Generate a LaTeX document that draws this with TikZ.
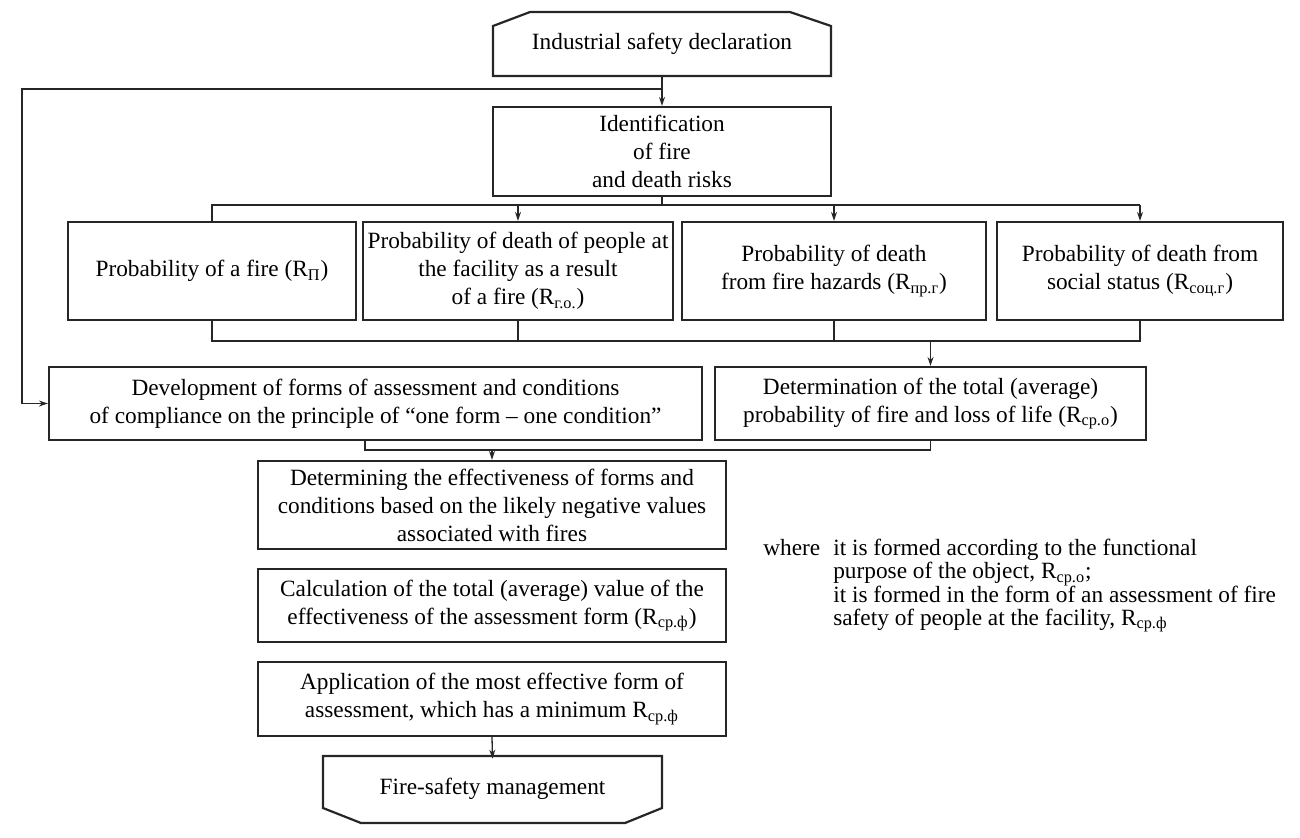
\documentclass[tikz,border=0pt]{standalone}
\usepackage{fontspec}
\setmainfont{Liberation Serif}
\usetikzlibrary{arrows.meta}
\begin{document}
\begin{tikzpicture}[x=0.5pt,y=-0.5pt,
  font=\fontsize{11.65}{14}\selectfont,
  box/.style={draw=black!85, line width=1.1pt, inner sep=1pt, align=center},
  plain/.style={inner sep=1pt, align=center},
  conn/.style={draw=black!85, line width=0.65pt},
  arr/.style={conn, -{Stealth[length=4.5pt,width=3pt]}}]
\useasboundingbox (0,0) rectangle (1300,837);
% top beveled box
\node[plain, minimum width=169pt, minimum height=32pt] (decl) at (662,44) {Industrial safety declaration};
\draw[line width=1.1pt, draw=black!85] (493,76) -- (493,26) -- (530,12) -- (790,12) -- (831,26) -- (831,76) -- cycle;
\node[box, minimum width=169pt, minimum height=44.5pt] (ident) at (662,151.5) {Identification\\of fire\\and death risks};
% four boxes
\node[box, minimum width=144pt, minimum height=49pt] (b1) at (212,271) {Probability of a fire (R\textsubscript{П})};
\node[box, minimum width=155pt, minimum height=49pt] (b2) at (518,271) {Probability of death of people at\\the facility as a result\\of a fire (R\textsubscript{г.о.})};
\node[box, minimum width=152pt, minimum height=49pt] (b3) at (834,271) {Probability of death\\from fire hazards (R\textsubscript{пр.г})};
\node[box, minimum width=143pt, minimum height=49pt] (b4) at (1140,271) {Probability of death from\\social status (R\textsubscript{соц.г})};
% second level
\node[box, minimum width=326.5pt, minimum height=36.5pt] (dev) at (375.5,403.5) {Development of forms of assessment and conditions\\of compliance on the principle of “one form – one condition”};
\node[box, minimum width=215.5pt, minimum height=36.5pt] (det) at (930.5,403.5) {Determination of the total (average)\\probability of fire and loss of life (R\textsubscript{ср.о})};
% lower column
\node[box, minimum width=234pt, minimum height=44pt] (b5) at (492,505) {Determining the effectiveness of forms and\\conditions based on the likely negative values\\associated with fires};
\node[box, minimum width=234pt, minimum height=36.5pt] (b6) at (492,605.5) {Calculation of the total (average) value of the\\effectiveness of the assessment form (R\textsubscript{ср.ф})};
\node[box, minimum width=234pt, minimum height=37pt] (b7) at (492,699) {Application of the most effective form of\\assessment, which has a minimum R\textsubscript{ср.ф}};
% bottom beveled box
\node[plain, minimum width=169.5pt, minimum height=30pt] (fsm) at (492.5,789) {Fire-safety management};
\draw[line width=1.1pt, draw=black!85] (323,756) -- (662,756) -- (662,808) -- (625,823) -- (361,823) -- (323,808) -- cycle;
% note
\node[anchor=north west, inner sep=0pt, font=\fontsize{11.65}{10.8}\selectfont] (note) at (763,539)
 {\begin{tabular}{@{}l@{\hspace{6.5pt}}l@{}}
 where & it is formed according to the functional\\
       & purpose of the object, R\textsubscript{ср.о};\\
       & it is formed in the form of an assessment of fire\\
       & safety of people at the facility, R\textsubscript{ср.ф}
 \end{tabular}};
% coordinates
\coordinate (fb) at (22,89);
\coordinate (tbus) at (0,205);
\coordinate (bbus) at (0,341);
\coordinate (cb) at (365,450);
% connectors
\draw[arr] (decl.south) -- (ident.north);
\draw[arr] (decl.south |- fb) -- (fb) |- (dev.west);
\draw[conn] (ident.south) -- (ident.south |- tbus);
\draw[conn] (b1.north) |- (b4.north |- tbus);
\draw[arr] (b2.north |- tbus) -- (b2.north);
\draw[arr] (b3.north |- tbus) -- (b3.north);
\draw[arr] (b4.north |- tbus) -- (b4.north);
\draw[conn] (b1.south) |- (b4.south |- bbus) -- (b4.south);
\draw[conn] (b2.south) -- (b2.south |- bbus);
\draw[conn] (b3.south) -- (b3.south |- bbus);
\draw[arr] (det.north |- bbus) -- (det.north);
\draw[conn] (cb |- dev.south) -- (cb) -| (det.south);
\draw[arr] (b5.north |- cb) -- (b5.north);
\draw[arr] (b7.south) -- (fsm.north);
\end{tikzpicture}
\end{document}
